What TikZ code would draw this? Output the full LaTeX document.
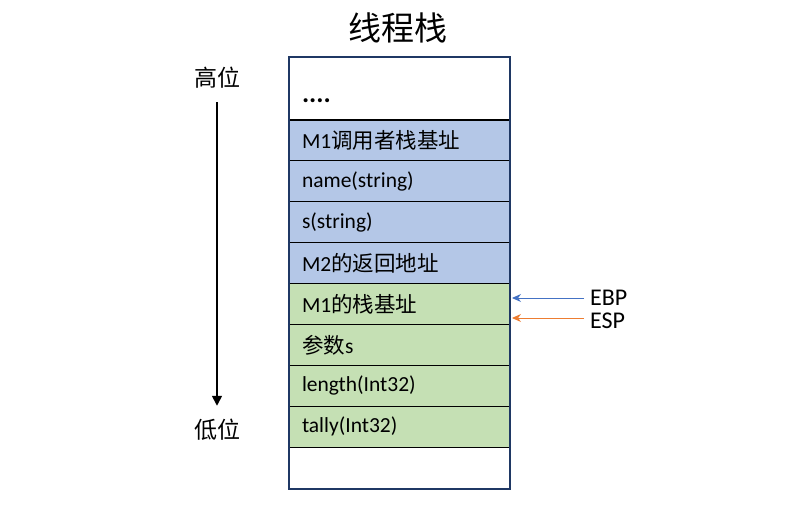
\documentclass[tikz,border=0pt]{standalone}
\usepackage{fontspec}
\setmainfont{Carlito}
\newfontfamily\cjk{Noto Sans CJK SC}
\usepackage{xcolor}
\definecolor{cFrame}{HTML}{1F3864}
\definecolor{cCall}{HTML}{B4C7E7}
\definecolor{cLocal}{HTML}{C5E0B4}
\definecolor{cEBP}{HTML}{4472C4}
\definecolor{cESP}{HTML}{ED7D31}
\usetikzlibrary{positioning,arrows.meta}
\tikzset{
  slot/.style={draw=black,line width=1.2pt,minimum width=221pt,
    minimum height=40.9pt,text width=195pt,inner xsep=13pt,inner ysep=0pt,
    outer sep=0pt,align=left,font=\fontsize{21.5}{24}\selectfont},
  slot-call/.style={fill=cCall},
  slot-local/.style={fill=cLocal},
  side-label/.style={font=\cjk\fontsize{23}{26}\selectfont},
  reg-label/.style={anchor=west,inner sep=0pt,font=\fontsize{24}{26}\selectfont},
  arrow-dir/.style={-{Triangle[length=10pt,width=10pt]},line width=1.6pt},
  arrow-reg/.style={-{Stealth[length=9pt,width=8pt]},line width=0.9pt},
}

\begin{document}
\begin{tikzpicture}[x=1pt,y=-1pt]
  \useasboundingbox (0,0) rectangle (804,516);
  \node[font=\cjk\fontsize{33}{36}\selectfont] (title) at (398,28) {线程栈};
  % stack slots, top to bottom
  \node[slot,anchor=north west,minimum height=63pt,text height=28pt,text depth=0pt,
    font=\bfseries\fontsize{27}{28}\selectfont] (dots) at (289,57) {....};
  \node[slot,slot-call,below=0pt of dots] (callerbase) {M1{\cjk 调用者栈基址}};
  \node[slot,slot-call,below=0pt of callerbase] (name) {name(string)};
  \node[slot,slot-call,below=0pt of name] (s) {s(string)};
  \node[slot,slot-call,below=0pt of s] (ret) {M2{\cjk 的返回地址}};
  \node[slot,slot-local,below=0pt of ret] (base) {M1{\cjk 的栈基址}};
  \node[slot,slot-local,below=0pt of base] (param) {{\cjk 参数}s};
  \node[slot,slot-local,below=0pt of param] (length) {length(Int32)};
  \node[slot,slot-local,below=0pt of length] (tally) {tally(Int32)};
  \node[slot,below=0pt of tally,minimum height=42pt] (blank) {};
  \draw[cFrame,line width=2pt] (dots.north west) rectangle (blank.south east);
  % high / low
  \node[side-label] (high) at (217,78) {高位};
  \node[side-label] (low) at (217,430) {低位};
  \draw[arrow-dir,shorten <=10pt,shorten >=10pt] (high) -- (low);
  % registers
  \node[reg-label] (ebp) at (590,298) {EBP};
  \node[reg-label] (esp) at (590,321) {ESP};
  \draw[arrow-reg,cEBP] ([xshift=-6pt]ebp.west) -- ([xshift=2pt]ebp.west -| base.east);
  \draw[arrow-reg,cESP] ([xshift=-6pt,yshift=3pt]esp.west) -- ([xshift=2pt,yshift=3pt]esp.west -| base.east);
\end{tikzpicture}
\end{document}
